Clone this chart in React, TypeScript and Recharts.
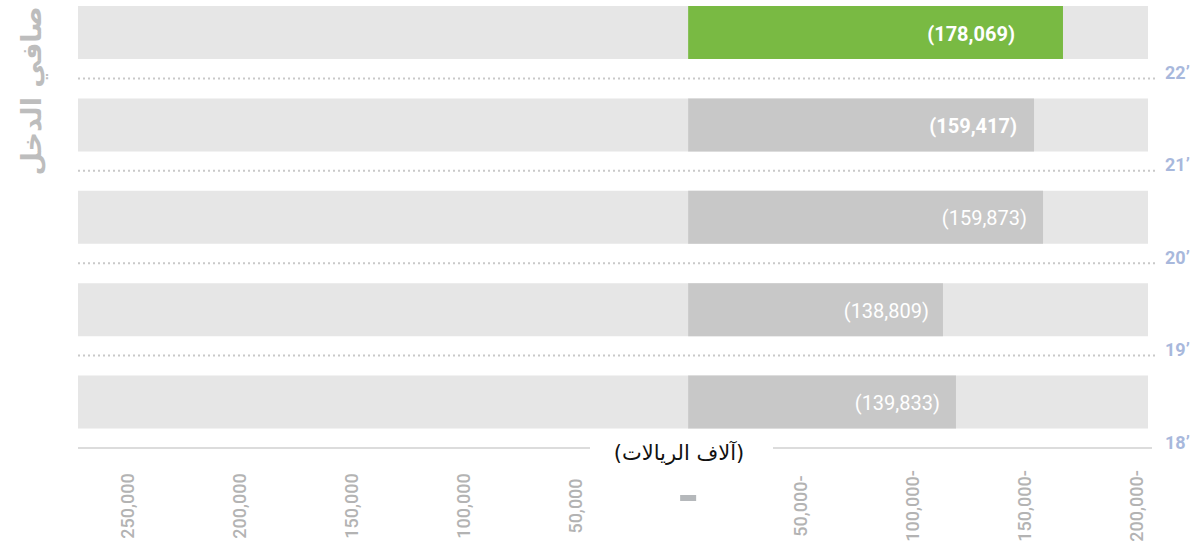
import React from 'react';
import { BarChart, Bar, XAxis, YAxis, Cell, LabelList } from 'recharts';

// Net income by year (thousands of riyals), top row = most recent
const years = ['22’', '21’', '20’', '19’', '18’'];
// bar lengths as drawn in the picture
const barValues = [-167100, -154200, -158200, -113600, -119400];
// figures printed on the bars
const reportedValues = [-178069, -159417, -159873, -138809, -139833];
const xTicks = [250000, 200000, 150000, 100000, 50000, 0, -50000, -100000, -150000, -200000];

const CHART_W = 1200;
const CHART_H = 564;
const PLOT_LEFT = 78;
const PLOT_H = 462;
const BAND = PLOT_H / years.length;

const GREEN = '#79ba43';
const GREY_BAR = '#c8c8c8';
const TRACK = '#e6e6e6';
const NUM_FONT = 'Roboto, "DejaVu Sans", sans-serif';
const AR_FONT = '"DejaVu Sans", "Noto Sans", sans-serif';

// inset of the printed figure from the bar end, per row
const labelInset = [48, 17, 16, 14, 16];

const data = years.map((year, i) => ({
  year,
  value: barValues[i],
  reported: reportedValues[i],
}));

const formatTick = (v: number) => {
  if (v === 0) return '';
  const s = Math.abs(v).toLocaleString('en-US');
  return v < 0 ? `${s}-` : s;
};

function XTick(props: any) {
  const { x, y, payload } = props;
  if (payload.value === 0) {
    return <rect x={x - 8} y={y + 47} width={16} height={6} fill="#b5b8bb" />;
  }
  return (
    <text
      transform={`translate(${x}, ${y + 58}) rotate(-90)`}
      textAnchor="middle"
      dominantBaseline="central"
      fontFamily={NUM_FONT}
      fontSize={18}
      fontWeight={500}
      fill="#b3b3b3"
    >
      {formatTick(payload.value)}
    </text>
  );
}

function YearTick(props: any) {
  const { x, y, payload, index } = props;
  const bottom = y + BAND / 2;
  const last = index === years.length - 1;
  return (
    <g>
      {!last && (
        <line
          x1={PLOT_LEFT}
          x2={1157}
          y1={bottom}
          y2={bottom}
          stroke="#c9c9c9"
          strokeWidth={2}
          strokeDasharray="2 3"
        />
      )}
      <text
        x={x + 17}
        y={bottom - 6}
        dominantBaseline="central"
        fontFamily={NUM_FONT}
        fontSize={18}
        fontWeight={700}
        fill="#a8b8dc"
      >
        {payload.value}
      </text>
    </g>
  );
}

function AxisTitle(props: any) {
  const { viewBox } = props;
  if (!viewBox) return null;
  const { x, y } = viewBox;
  return (
    <g>
      <line x1={x} x2={590} y1={y} y2={y} stroke="#dcdcdc" strokeWidth={2} />
      <line x1={773} x2={1152} y1={y} y2={y} stroke="#dcdcdc" strokeWidth={2} />
      <text
        x={679}
        y={y + 5}
        textAnchor="middle"
        dominantBaseline="central"
        fontFamily={AR_FONT}
        fontSize={21}
        fill="#111"
        direction="rtl"
      >
        (آلاف الريالات)
      </text>
    </g>
  );
}

function BarFigure(props: any) {
  const { x, y, width, height, index } = props;
  const right = Math.max(x, x + width);
  return (
    <text
      x={right - labelInset[index]}
      y={y + height / 2 + 1}
      textAnchor="end"
      dominantBaseline="central"
      fontFamily={NUM_FONT}
      fontSize={20}
      fontWeight={index < 2 ? 700 : 400}
      fill="#ffffff"
    >
      {`(${Math.abs(reportedValues[index]).toLocaleString('en-US')})`}
    </text>
  );
}

export default function App() {
  return (
    <div style={{ position: 'absolute', left: 0, top: 0, width: 1200, height: 549, overflow: 'hidden', background: '#fff' }}>
      <div style={{ position: 'absolute', left: 0, top: -14 }}>
        <BarChart
          width={CHART_W}
          height={CHART_H}
          data={data}
          layout="vertical"
          margin={{ top: 0, right: 0, bottom: 0, left: PLOT_LEFT }}
        >
          <XAxis
            type="number"
            domain={[-205000, 272000]}
            reversed
            ticks={xTicks}
            interval={0}
            allowDataOverflow
            axisLine={false}
            tickLine={false}
            tickSize={0}
            tickMargin={0}
            height={CHART_H - PLOT_H}
            tick={<XTick />}
            label={<AxisTitle />}
          />
          <YAxis
            type="category"
            dataKey="year"
            orientation="right"
            width={52}
            axisLine={false}
            tickLine={false}
            tickSize={0}
            tickMargin={0}
            interval={0}
            tick={<YearTick />}
          />
          <Bar dataKey="value" barSize={53} background={{ fill: TRACK }} isAnimationActive={false}>
            {data.map((d, i) => (
              <Cell key={d.year} fill={i === 0 ? GREEN : GREY_BAR} />
            ))}
            <LabelList dataKey="reported" content={<BarFigure />} />
          </Bar>
        </BarChart>
      </div>
      <svg width={70} height={200} style={{ position: 'absolute', left: 0, top: 0 }}>
        <text
          transform="translate(31, 91) rotate(-90)"
          textAnchor="middle"
          dominantBaseline="central"
          fontFamily={AR_FONT}
          fontSize={27}
          fontWeight={700}
          fill="#bdbdbd"
          direction="rtl"
        >
          صافي الدخل
        </text>
      </svg>
    </div>
  );
}
